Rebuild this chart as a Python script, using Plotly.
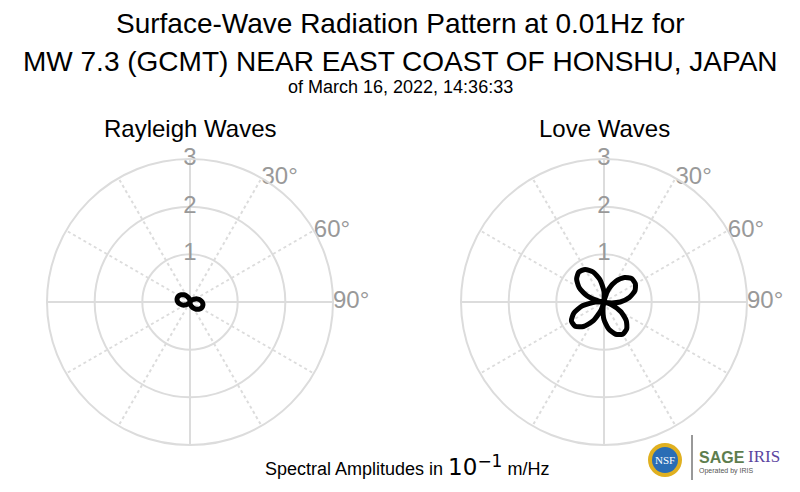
import plotly.graph_objects as go

# ---------------- data ----------------
rayleigh_theta = [0, 10, 17, 20, 30, 40, 50, 60, 70, 80, 90, 100, 110, 120, 130, 140, 150, 160, 170,
                  180, 190, 197, 200, 210, 220, 230, 240, 250, 260, 270, 280, 290, 300, 310, 320,
                  330, 340, 350, 360]
rayleigh_r = [0.024, 0.004, 0.0, 0.001, 0.014, 0.043, 0.083, 0.130, 0.179, 0.222, 0.256, 0.276, 0.279,
              0.266, 0.237, 0.197, 0.150, 0.101, 0.058, 0.024, 0.004, 0.0, 0.001, 0.014, 0.043, 0.083,
              0.130, 0.179, 0.222, 0.256, 0.276, 0.279, 0.266, 0.237, 0.197, 0.150, 0.101, 0.058,
              0.024]

love_theta = [0, 8, 10, 20, 30, 40, 50, 60, 70, 80, 90, 100, 104, 110, 120, 130, 140, 150, 160, 170,
              180, 190, 194, 200, 210, 220, 230, 240, 250, 260, 270, 276, 280, 290, 300, 310, 320,
              330, 340, 350, 360]
love_r = [0.22, 0.0, 0.05, 0.29, 0.51, 0.67, 0.76, 0.76, 0.69, 0.54, 0.34, 0.10, 0.0, 0.16, 0.41,
          0.61, 0.74, 0.78, 0.72, 0.58, 0.37, 0.11, 0.0, 0.18, 0.46, 0.67, 0.79, 0.79, 0.67, 0.46,
          0.18, 0.0, 0.11, 0.38, 0.60, 0.75, 0.82, 0.79, 0.67, 0.47, 0.22]

radial_ticks = [1, 2, 3]
radial_labels = ["1", "2", "3"]
angle_ticks = [0, 30, 60, 90, 120, 150, 180, 210, 240, 270, 300, 330]
angle_label_vals = [30, 60, 90]
angle_label_text = ["30°", "60°", "90°"]
r_max = 3

subplot_titles = ["Rayleigh Waves", "Love Waves"]
title_line1 = "Surface-Wave Radiation Pattern at 0.01Hz for"
title_line2 = "MW 7.3 (GCMT) NEAR EAST COAST OF HONSHU, JAPAN"
subtitle = "of March 16, 2022, 14:36:33"
footer = ("Spectral Amplitudes in "
          "<span style='font-family:DejaVu Sans;font-size:23px'>10</span>"
          "<sup><span style='font-family:DejaVu Sans;font-size:17px'>−1</span></sup> m/Hz")

# ---------------- styling ----------------
FONT = "Liberation Sans, Arial, sans-serif"
GRID = "#dcdcdc"
TICK = "#999999"

W, H = 800, 492
R_PX = 143
centers = [(190, 302), (604, 302)]

fig = go.Figure()

for i, (th, rr) in enumerate([(rayleigh_theta, rayleigh_r), (love_theta, love_r)]):
    sp = "polar" if i == 0 else "polar2"
    # solid cross lines at 0/90/180/270
    fig.add_trace(go.Scatterpolar(
        r=[r_max, r_max, None, r_max, r_max], theta=[0, 180, None, 90, 270],
        mode="lines", line=dict(color=GRID, width=2), subplot=sp,
        hoverinfo="skip", showlegend=False))
    # radial tick labels along the north axis
    fig.add_trace(go.Scatterpolar(
        r=radial_ticks, theta=[0] * len(radial_ticks), text=radial_labels,
        mode="text", textposition="middle center",
        textfont=dict(family=FONT, size=24, color=TICK), subplot=sp,
        hoverinfo="skip", showlegend=False, cliponaxis=False))
    # angular tick labels (left-anchored at the outer circle)
    fig.add_trace(go.Scatterpolar(
        r=[r_max] * len(angle_label_vals), theta=angle_label_vals, text=angle_label_text,
        mode="text", textposition="middle right",
        textfont=dict(family=FONT, size=24, color=TICK), subplot=sp,
        hoverinfo="skip", showlegend=False, cliponaxis=False))
    # pattern
    fig.add_trace(go.Scatterpolar(
        r=rr, theta=th, mode="lines",
        line=dict(color="black", width=5, shape="spline", smoothing=0.6),
        subplot=sp, showlegend=False, hoverinfo="skip"))


def polar_layout(cx, cy):
    return dict(
        domain=dict(x=[(cx - R_PX) / W, (cx + R_PX) / W],
                    y=[(H - cy - R_PX) / H, (H - cy + R_PX) / H]),
        bgcolor="white",
        angularaxis=dict(
            rotation=90, direction="clockwise",
            tickmode="array", tickvals=angle_ticks, showticklabels=False,
            showgrid=True, gridcolor=GRID, griddash="dot", gridwidth=2,
            showline=True, linecolor=GRID, linewidth=2, ticks=""),
        radialaxis=dict(
            range=[0, r_max], tickvals=radial_ticks, showticklabels=False,
            showline=False, ticks="", showgrid=True, gridcolor=GRID, gridwidth=2),
    )


annotations = []
for (cx, cy), t in zip(centers, subplot_titles):
    annotations.append(dict(text=t, x=cx / W, y=1 - 128 / H, xref="paper", yref="paper",
                            xanchor="center", yanchor="middle", showarrow=False,
                            font=dict(family=FONT, size=24, color="black")))
annotations += [
    dict(text=title_line1, x=0.5, y=1 - 23 / H, xref="paper", yref="paper", xanchor="center",
         yanchor="middle", showarrow=False, font=dict(family=FONT, size=28, color="black")),
    dict(text=title_line2, x=0.5, y=1 - 61 / H, xref="paper", yref="paper", xanchor="center",
         yanchor="middle", showarrow=False, font=dict(family=FONT, size=28, color="black")),
    dict(text=subtitle, x=0.5, y=1 - 87 / H, xref="paper", yref="paper", xanchor="center",
         yanchor="middle", showarrow=False, font=dict(family=FONT, size=18, color="black")),
    dict(text=footer, x=263 / W, y=1 - 465 / H, xref="paper", yref="paper", xanchor="left",
         yanchor="middle", showarrow=False, font=dict(family=FONT, size=18, color="black")),
    # logo texts
    dict(text="NSF", x=665 / W, y=1 - 460 / H, xref="paper", yref="paper", xanchor="center",
         yanchor="middle", showarrow=False,
         font=dict(family="Liberation Serif, serif", size=11, color="white")),
    dict(text="<b>SAGE</b>", x=697 / W, y=1 - 457 / H, xref="paper", yref="paper", xanchor="left",
         yanchor="middle", showarrow=False, font=dict(family=FONT, size=16, color="#5e7d4e")),
    dict(text="IRIS", x=746 / W, y=1 - 456 / H, xref="paper", yref="paper", xanchor="left",
         yanchor="middle", showarrow=False,
         font=dict(family="Liberation Serif, serif", size=17, color="#5b45a0")),
    dict(text="Operated by IRIS", x=697 / W, y=1 - 471 / H, xref="paper", yref="paper",
         xanchor="left", yanchor="middle", showarrow=False,
         font=dict(family=FONT, size=7, color="#555555")),
]

shapes = [
    dict(type="circle", xref="paper", yref="paper",
         x0=(665 - 17) / W, x1=(665 + 17) / W, y0=1 - (460 + 17) / H, y1=1 - (460 - 17) / H,
         fillcolor="#e0b020", line=dict(width=0)),
    dict(type="circle", xref="paper", yref="paper",
         x0=(665 - 13) / W, x1=(665 + 13) / W, y0=1 - (460 + 13) / H, y1=1 - (460 - 13) / H,
         fillcolor="#2a6db5", line=dict(width=0)),
    dict(type="line", xref="paper", yref="paper",
         x0=692 / W, x1=692 / W, y0=1 - 435 / H, y1=1 - 480 / H,
         line=dict(color="#333333", width=1)),
]

fig.update_layout(
    width=W, height=H,
    margin=dict(l=0, r=0, t=0, b=0),
    paper_bgcolor="white",
    polar=polar_layout(*centers[0]),
    polar2=polar_layout(*centers[1]),
    annotations=annotations,
    shapes=shapes,
    showlegend=False,
    font=dict(family=FONT),
)

fig.write_html("out.html", config={"displayModeBar": False},
               post_script="document.body.style.margin='0px';document.body.style.overflow='hidden';")
